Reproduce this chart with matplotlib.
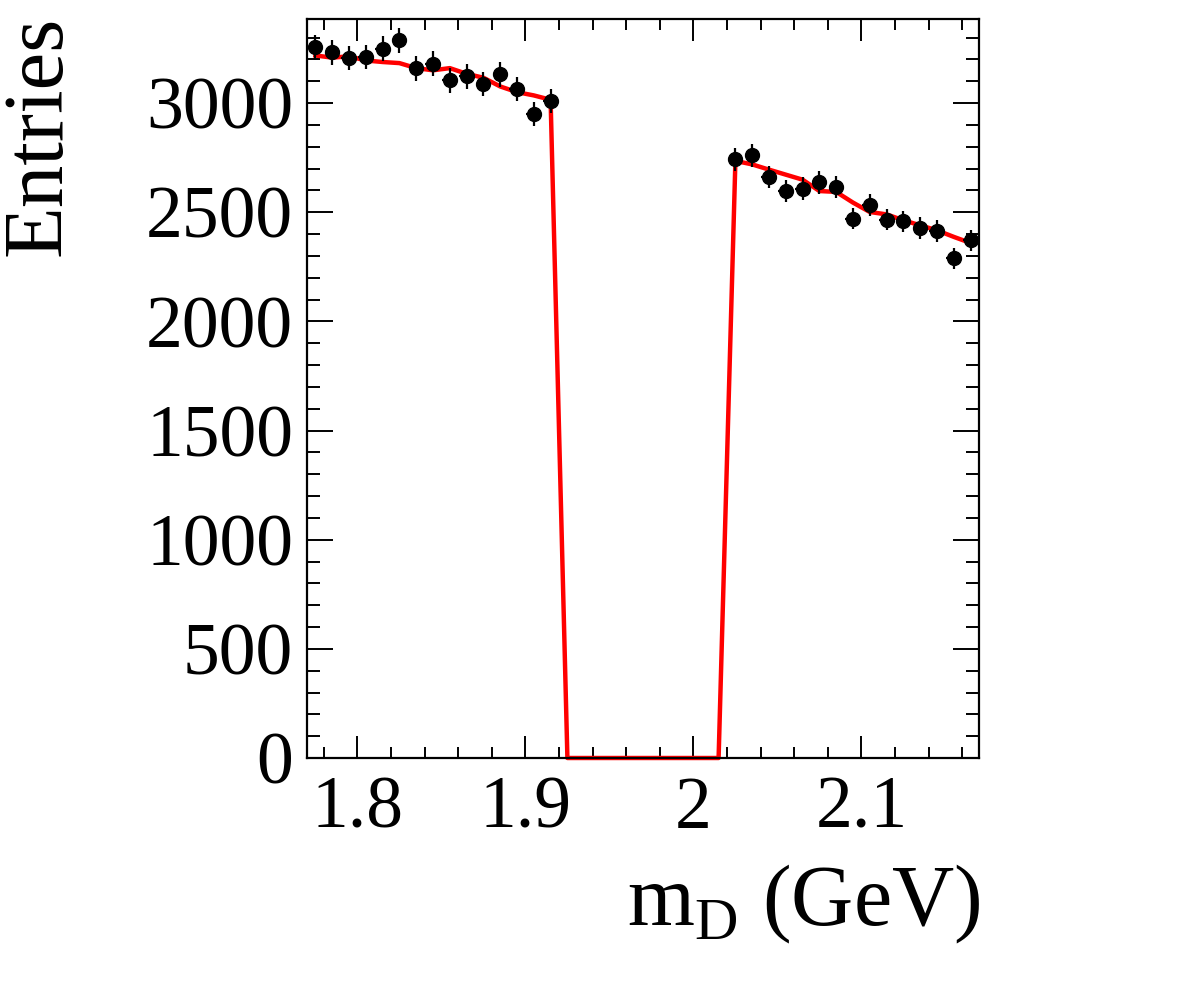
import numpy as np
import matplotlib
matplotlib.use('Agg')
import matplotlib.pyplot as plt
from matplotlib.ticker import MultipleLocator

plt.rcParams['font.family'] = 'Liberation Serif'
plt.rcParams['mathtext.fontset'] = 'custom'
plt.rcParams['mathtext.rm'] = 'Liberation Serif'

# bin centres of the two sidebands (bin width 0.01 GeV)
left_x = np.round(np.arange(1.775, 1.916, 0.01), 3)
right_x = np.round(np.arange(2.025, 2.166, 0.01), 3)
signal_x = np.round(np.arange(1.925, 2.016, 0.01), 3)

left_counts = np.array([3256, 3232, 3206, 3211, 3249, 3287, 3159, 3180, 3104, 3122,
                        3086, 3131, 3066, 2951, 3009])
right_counts = np.array([2742, 2760, 2661, 2596, 2608, 2637, 2615, 2471, 2532, 2466,
                         2458, 2428, 2414, 2290, 2371])

left_fit = [3218, 3208, 3214, 3195, 3188, 3183, 3160, 3150, 3160, 3134,
            3116, 3076, 3050, 3035, 3015]
signal_fit = [0] * 10
right_fit = [2735, 2719, 2695, 2672, 2649, 2597, 2593, 2544, 2501, 2490,
             2463, 2440, 2417, 2387, 2359]

data_x = np.concatenate([left_x, right_x])
data_y = np.concatenate([left_counts, right_counts])
fit_x = np.concatenate([left_x, signal_x, right_x])
fit_y = np.array(left_fit + signal_fit + right_fit)

fig = plt.figure(figsize=(11.82, 9.86), dpi=100)
ax = fig.add_axes([307/1182, 1-758/986, (979-307)/1182, (758-19)/986])

ax.plot(fit_x, fit_y, '-', color='#ff0000', lw=3.2, zorder=2, clip_on=False)
ax.errorbar(data_x, data_y, yerr=np.sqrt(data_y), xerr=0.0045, fmt='o',
            color='black', ms=10, elinewidth=1.6, capsize=0, zorder=3)

ax.set_xlim(1.77, 2.17)
ax.set_ylim(0, 3385)
ax.xaxis.set_major_locator(MultipleLocator(0.1))
ax.xaxis.set_minor_locator(MultipleLocator(0.02))
ax.yaxis.set_major_locator(MultipleLocator(500))
ax.yaxis.set_minor_locator(MultipleLocator(100))
ax.set_xticks([1.8, 1.9, 2.0, 2.1])
ax.set_xticklabels(['1.8', '1.9', '2', '2.1'])

ax.tick_params(axis='both', which='both', direction='in', top=True, right=True,
               labelsize=53, width=1.4)
ax.tick_params(axis='x', which='major', length=16, pad=13)
ax.tick_params(axis='x', which='minor', length=8)
ax.tick_params(axis='y', which='major', length=19, pad=10)
ax.tick_params(axis='y', which='minor', length=9.5)
for s in ax.spines.values():
    s.set_linewidth(1.6)

fig.text(40/1182, 1-16/986, 'Entries', rotation=90, ha='center', va='top', fontsize=61)
fig.text(980/1182, 1-925/986, r'm$_{\mathrm{D}}$ (GeV)', ha='right', va='baseline', fontsize=62)

fig.savefig('out.png', dpi=100)
